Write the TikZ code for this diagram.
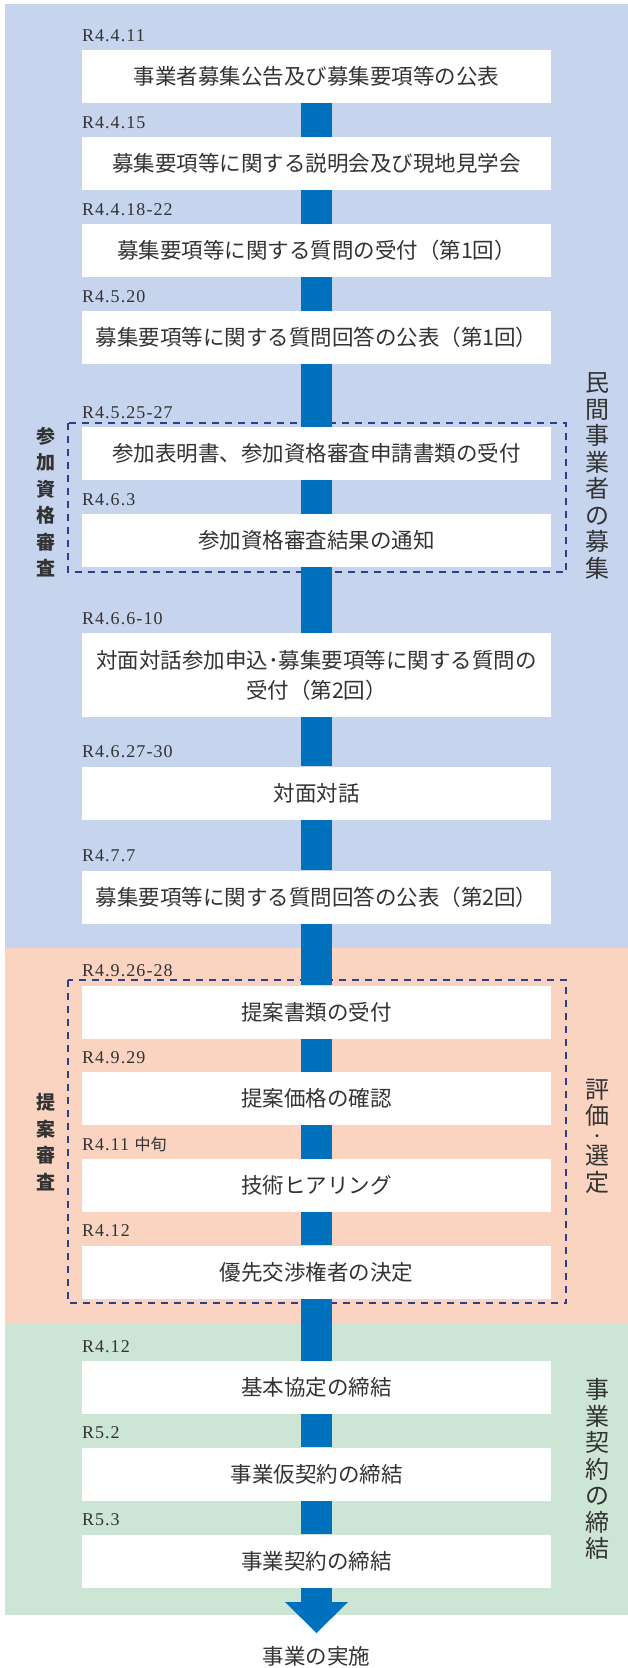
\documentclass[tikz,border=0pt]{standalone}
\usepackage{fontspec}
\setmainfont{Noto Sans CJK JP}
\newfontfamily\jpfont{Noto Sans CJK JP}
\newfontfamily\datefont{Liberation Serif}[LetterSpace=6]
\usetikzlibrary{arrows.meta}
\definecolor{panelblue}{HTML}{C6D4ED}
\definecolor{panelpeach}{HTML}{FBD3C1}
\definecolor{panelgreen}{HTML}{CCE5D5}
\definecolor{barblue}{HTML}{0071BC}
\definecolor{dashnavy}{HTML}{2D3E8A}
\definecolor{txtgray}{HTML}{333333}

\begin{document}
\begin{tikzpicture}[x=1pt, y=-1pt,
    stepbox/.style={fill=white, minimum width=469pt, minimum height=53pt, inner sep=0pt,
        text=txtgray, align=center, font=\fontsize{21.5}{30}\selectfont},
    date/.style={anchor=base west, inner sep=0pt, text=txtgray, font=\datefont\fontsize{18}{20}\selectfont},
    bar/.style={draw=barblue, line width=31pt},
    dashbox/.style={draw=dashnavy, line width=2pt, dash pattern=on 7pt off 6pt},
    sidelabel/.style={align=center, text=txtgray, font=\fontsize{24}{26.5}\selectfont},
    checklabel/.style={align=center, text=txtgray, font=\bfseries\fontsize{19}{26.5}\selectfont}]
            \useasboundingbox (0,0) rectangle (628,1668);
            % panels
            \fill[panelblue] (5,4) rectangle (628,948);
            \fill[panelpeach] (5,948) rectangle (628,1323);
            \fill[panelgreen] (5,1323) rectangle (628,1615);
            \draw[dashbox] (67.5,423) rectangle (566,572);
            \draw[dashbox] (67.5,980) rectangle (566,1303);
            % steps
            \node[stepbox] (b1) at (316.5,76.5) {事業者募集公告及び募集要項等の公表};
            \node[stepbox] (b2) at (316.5,163.5) {募集要項等に関する説明会及び現地見学会};
            \node[stepbox] (b3) at (316.5,250.5) {募集要項等に関する質問の受付（第1回）};
            \node[stepbox] (b4) at (316.5,337.5) {募集要項等に関する質問回答の公表（第1回）};
            \node[stepbox] (b5) at (316.5,453.5) {参加表明書、参加資格審査申請書類の受付};
            \node[stepbox] (b6) at (316.5,540.5) {参加資格審査結果の通知};
            \node[stepbox, minimum height=84pt] (b7) at (316.5,675) {対面対話参加申込･募集要項等に関する質問の\\受付（第2回）};
            \node[stepbox] (b8) at (316.5,793) {対面対話};
            \node[stepbox] (b9) at (316.5,897) {募集要項等に関する質問回答の公表（第2回）};
            \node[stepbox] (b10) at (316.5,1012) {提案書類の受付};
            \node[stepbox] (b11) at (316.5,1098.5) {提案価格の確認};
            \node[stepbox] (b12) at (316.5,1185.5) {技術ヒアリング};
            \node[stepbox] (b13) at (316.5,1272) {優先交渉権者の決定};
            \node[stepbox] (b14) at (316.5,1387.5) {基本協定の締結};
            \node[stepbox] (b15) at (316.5,1474) {事業仮契約の締結};
            \node[stepbox] (b16) at (316.5,1561) {事業契約の締結};
            \node[stepbox, fill=none] (goal) at (316.5,1656) {事業の実施};
            \coordinate (tip) at (316.5,1633);
            % dates
            \node[date] (d1) at ([yshift=8.5pt]b1.north west) {R4.4.11};
            \node[date] (d2) at ([yshift=8.5pt]b2.north west) {R4.4.15};
            \node[date] (d3) at ([yshift=8.5pt]b3.north west) {R4.4.18-22};
            \node[date] (d4) at ([yshift=8.5pt]b4.north west) {R4.5.20};
            \node[date] (d5) at ([yshift=8.5pt]b5.north west) {R4.5.25-27};
            \node[date] (d6) at ([yshift=8.5pt]b6.north west) {R4.6.3};
            \node[date] (d7) at ([yshift=8.5pt]b7.north west) {R4.6.6-10};
            \node[date] (d8) at ([yshift=8.5pt]b8.north west) {R4.6.27-30};
            \node[date] (d9) at ([yshift=8.5pt]b9.north west) {R4.7.7};
            \node[date] (d10) at ([yshift=8.5pt]b10.north west) {R4.9.26-28};
            \node[date] (d11) at ([yshift=8.5pt]b11.north west) {R4.9.29};
            \node[date] (d12) at ([yshift=8.5pt]b12.north west) {R4.11 {\jpfont\fontsize{16}{18}\selectfont 中旬}};
            \node[date] (d13) at ([yshift=8.5pt]b13.north west) {R4.12};
            \node[date] (d14) at ([yshift=8.5pt]b14.north west) {R4.12};
            \node[date] (d15) at ([yshift=8.5pt]b15.north west) {R5.2};
            \node[date] (d16) at ([yshift=8.5pt]b16.north west) {R5.3};
            % flow bar
            \draw[bar] (b1.south) -- (b2.north);
            \draw[bar] (b2.south) -- (b3.north);
            \draw[bar] (b3.south) -- (b4.north);
            \draw[bar] (b4.south) -- (b5.north);
            \draw[bar] (b5.south) -- (b6.north);
            \draw[bar] (b6.south) -- (b7.north);
            \draw[bar] (b7.south) -- (b8.north);
            \draw[bar] (b8.south) -- (b9.north);
            \draw[bar] (b9.south) -- (b10.north);
            \draw[bar] (b10.south) -- (b11.north);
            \draw[bar] (b11.south) -- (b12.north);
            \draw[bar] (b12.south) -- (b13.north);
            \draw[bar] (b13.south) -- (b14.north);
            \draw[bar] (b14.south) -- (b15.north);
            \draw[bar] (b15.south) -- (b16.north);
            \draw[bar, -{Triangle[width=63pt, length=31pt, line width=0pt]}] (b16.south) -- (tip);
            % side labels
            \node[checklabel] (qual) at (45.5,502) {参\\加\\資\\格\\審\\査};
            \node[checklabel] (prop) at (45.5,1142) {提\\案\\審\\査};
            \node[sidelabel] (recruit) at (597,476) {民\\間\\事\\業\\者\\の\\募\\集};
            \node[sidelabel] (select) at (597,1136) {評\\価\\[-10pt]{\fontsize{14}{14}\selectfont ・}\\[-3pt]選\\定};
            \node[sidelabel] (contract) at (597,1469) {事\\業\\契\\約\\の\\締\\結};
\end{tikzpicture}
\end{document}
